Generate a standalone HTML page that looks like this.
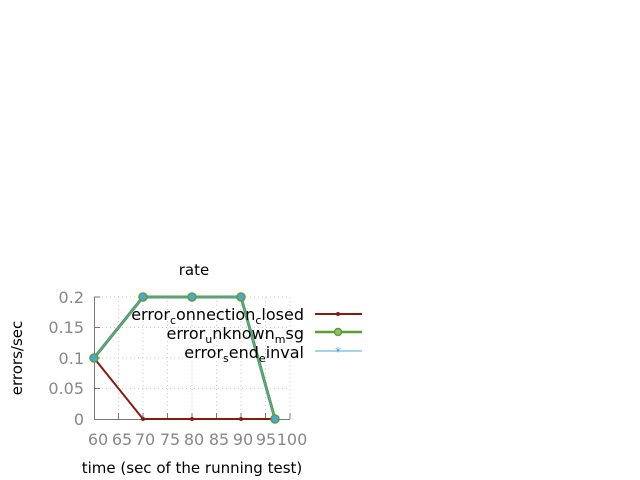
<!DOCTYPE html>
<html><head><style>body{margin:0;background:#fff}svg{display:block}</style></head><body>
<svg width="640" height="480" xmlns="http://www.w3.org/2000/svg" font-family="DejaVu Sans, sans-serif">
<g stroke="#ccc" stroke-dasharray="1,3" stroke-width="1">
<line x1="94" y1="297" x2="290" y2="297"/>
<line x1="94" y1="327.5" x2="290" y2="327.5"/>
<line x1="94" y1="358" x2="290" y2="358"/>
<line x1="94" y1="388.5" x2="290" y2="388.5"/>
<line x1="118.5" y1="297" x2="118.5" y2="419"/>
<line x1="143" y1="297" x2="143" y2="419"/>
<line x1="167.5" y1="297" x2="167.5" y2="419"/>
<line x1="192" y1="297" x2="192" y2="419"/>
<line x1="216.5" y1="297" x2="216.5" y2="419"/>
<line x1="241" y1="297" x2="241" y2="419"/>
<line x1="265.5" y1="297" x2="265.5" y2="419"/>
<line x1="290" y1="297" x2="290" y2="419"/>
</g>
<g stroke="#777" stroke-width="1">
<line x1="94.5" y1="297" x2="94.5" y2="419"/>
<line x1="94" y1="419.5" x2="290" y2="419.5"/>
<line x1="94" y1="297" x2="100" y2="297"/><line x1="94" y1="327.5" x2="100" y2="327.5"/><line x1="94" y1="358" x2="100" y2="358"/><line x1="94" y1="388.5" x2="100" y2="388.5"/>
<line x1="118.5" y1="419" x2="118.5" y2="413"/><line x1="143" y1="419" x2="143" y2="413"/><line x1="167.5" y1="419" x2="167.5" y2="413"/><line x1="192" y1="419" x2="192" y2="413"/><line x1="216.5" y1="419" x2="216.5" y2="413"/><line x1="241" y1="419" x2="241" y2="413"/><line x1="265.5" y1="419" x2="265.5" y2="413"/><line x1="290" y1="419" x2="290" y2="413"/>
</g>
<g fill="#888" font-size="16" text-anchor="end">
<text x="84" y="303">0.2</text><text x="84" y="333">0.15</text><text x="84" y="364">0.1</text><text x="84" y="394">0.05</text><text x="84" y="425">0</text>
</g>
<g fill="#888" font-size="16" text-anchor="middle">
<text x="98" y="445">60</text><text x="122" y="445">65</text><text x="145" y="445">70</text><text x="170" y="445">75</text><text x="194" y="445">80</text><text x="219" y="445">85</text><text x="243" y="445">90</text><text x="266" y="445">95</text><text x="292" y="445">100</text>
</g>
<text x="194" y="275" font-size="15" text-anchor="middle">rate</text>
<text x="192" y="473" font-size="15" text-anchor="middle">time (sec of the running test)</text>
<text transform="translate(22,358) rotate(-90)" font-size="15" text-anchor="middle">errors/sec</text>
<polyline points="94,358 143,419 192,419 241,419 275,419" fill="none" stroke="#8b1a0e" stroke-width="2"/>
<g fill="#8b1a0e"><circle cx="143" cy="419" r="2"/><circle cx="192" cy="419" r="2"/><circle cx="241" cy="419" r="2"/></g>
<polyline points="94,358 143,297 192,297 241,297 275,419" fill="none" stroke="#5e9c36" stroke-width="3"/>
<polyline points="94,358 143,297 192,297 241,297 275,419" fill="none" stroke="#4aa8d8" stroke-width="1"/>
<g fill="#4aa8d8" stroke="#5e9c36" stroke-width="1.5"><circle cx="94" cy="358" r="4"/><circle cx="143" cy="297" r="4"/><circle cx="192" cy="297" r="4"/><circle cx="241" cy="297" r="4"/><circle cx="275" cy="419" r="4"/></g>
<g font-size="16" text-anchor="end" fill="#000">
<text x="304" y="320">error<tspan font-size="11" dy="4">c</tspan><tspan dy="-4">onnection</tspan><tspan font-size="11" dy="4">c</tspan><tspan dy="-4">losed</tspan></text>
<text x="304" y="339">error<tspan font-size="11" dy="4">u</tspan><tspan dy="-4">nknown</tspan><tspan font-size="11" dy="4">m</tspan><tspan dy="-4">sg</tspan></text>
<text x="304" y="358">error<tspan font-size="11" dy="4">s</tspan><tspan dy="-4">end</tspan><tspan font-size="11" dy="4">e</tspan><tspan dy="-4">inval</tspan></text>
</g>
<line x1="315" y1="314" x2="362" y2="314" stroke="#8b1a0e" stroke-width="2"/>
<circle cx="338" cy="314" r="2" fill="#8b1a0e"/>
<line x1="315" y1="332" x2="362" y2="332" stroke="#5e9c36" stroke-width="2.5"/>
<circle cx="338" cy="332" r="3.5" fill="#8fc06a" stroke="#5e9c36" stroke-width="1.5"/>
<line x1="315" y1="351" x2="362" y2="351" stroke="#4aa8d8" stroke-width="1"/>
<text x="338" y="356" font-size="12" fill="#4aa8d8" text-anchor="middle">*</text>
</svg>
</body></html>
